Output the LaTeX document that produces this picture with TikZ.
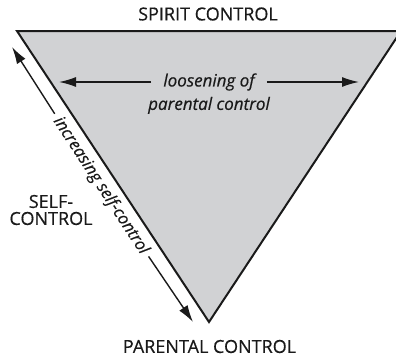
\documentclass[tikz,border=0pt]{standalone}
\usepackage{fontspec}
\setmainfont{Open Sans}[FakeBold=0.5]
\usepackage{xcolor}
\usepackage{tikz}
\usetikzlibrary{arrows.meta,positioning,calc}
\definecolor{triInk}{HTML}{1A1A1A}
\definecolor{triFill}{HTML}{D1D2D4}

\begin{document}
\begin{tikzpicture}[
  x=1pt,y=-1pt,
  tri/.style={draw=triInk,line width=2pt,fill=triFill,line join=miter},
  arr/.style={-{Latex[length=17pt,width=10pt]},line width=1.4pt,triInk},
  caplabel/.style={font=\fontsize{18}{17}\selectfont,text=triInk,align=center,inner sep=0pt},
  note/.style={font=\fontsize{17}{19}\selectfont\itshape,text=triInk,inner sep=0pt}
]
\clip (0,0) rectangle (396,359);
\draw[tri] (17,31) -- (401,31) -- (209,322) -- cycle;
\node[caplabel] (spirit) at (208,14) {SPIRIT CONTROL};
\node[caplabel] (parent) at (209.5,346.5) {PARENTAL CONTROL};
\node[caplabel] (self) at (51,210) {SELF-\\CONTROL};
\node[note,inner xsep=12pt] (loos) at (209,82) {loosening of};
\node[note,below=6pt of loos] (par) {parental control};
\coordinate (ltip) at (59,82);
\coordinate (rtip) at (359,82);
\draw[arr] (loos.west) -- (ltip);
\draw[arr] (loos.east) -- (rtip);
\coordinate (up) at (12,47);
\coordinate (down) at (193,322);
\node[note,font=\fontsize{16.5}{19}\selectfont\itshape,rotate=-56.8,anchor=base,inner xsep=5pt,inner ysep=0pt]
  (inc) at ($(up)!0.5!(down)+(-5.4,3.6)$) {increasing self-control};
\draw[arr] (inc) -- (up);
\draw[arr] (inc) -- (down);
\end{tikzpicture}
\end{document}
